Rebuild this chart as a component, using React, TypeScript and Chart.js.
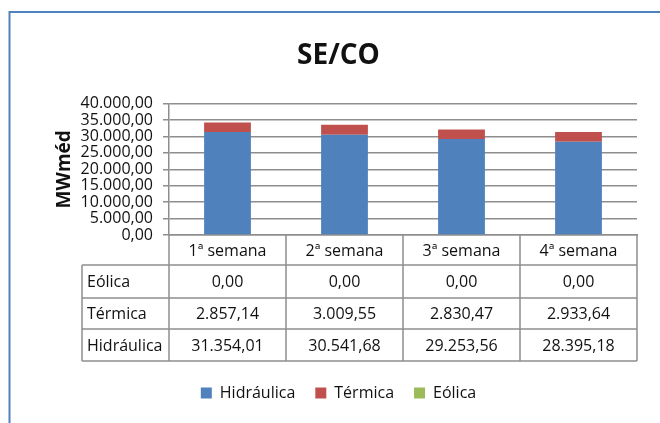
import { useEffect, useRef } from "react";
import { Chart, registerables } from "chart.js";

Chart.register(...registerables);

// ---- data ----
const chartTitle = "SE/CO";
const yAxisTitle = "MWméd";
const categories = ["1ª semana", "2ª semana", "3ª semana", "4ª semana"];
const seriesNames = ["Hidráulica", "Térmica", "Eólica"];
const hidraulica = [31354.01, 30541.68, 29253.56, 28395.18];
const termica = [2857.14, 3009.55, 2830.47, 2933.64];
const eolica = [0, 0, 0, 0];
const yMin = 0;
const yMax = 40000;
const yStep = 5000;

// ---- style ----
const COLORS = ["#4F81BD", "#C0504D", "#9BBB59"];
const GRID = "#8e8e8e";
const TEXT = "#111111";
const FAMILY = "'Open Sans', 'Noto Sans', sans-serif";

function fmtBR(v: number): string {
  const [i, f] = v.toFixed(2).split(".");
  return i.replace(/\B(?=(\d{3})+(?!\d))/g, ".") + "," + f;
}

const framePlugin = {
  id: "frame",
  beforeDraw(chart: any) {
    const { ctx, width, height } = chart;
    ctx.save();
    ctx.fillStyle = "#ffffff";
    ctx.fillRect(0, 0, width, height);
    ctx.strokeStyle = "#4F81BD";
    ctx.lineWidth = 2;
    ctx.beginPath();
    ctx.moveTo(9.5, height + 5);
    ctx.lineTo(9.5, 12);
    ctx.lineTo(width + 5, 12);
    ctx.stroke();
    ctx.restore();
  },
};

const tablePlugin = {
  id: "dataTable",
  afterDraw(chart: any) {
    const { ctx, chartArea } = chart;
    const xs = chart.scales.x;
    const left = chartArea.left;
    const right = chartArea.right;
    const top = chartArea.bottom;
    const n = categories.length;
    const colW = (right - left) / n;
    const rowYs = [top, top + 30, top + 63, top + 94, top + 126];
    const labelLeft = left - 87;

    ctx.save();
    ctx.strokeStyle = GRID;
    ctx.lineWidth = 1.5;
    const line = (x1: number, y1: number, x2: number, y2: number) => {
      ctx.beginPath();
      ctx.moveTo(x1, y1);
      ctx.lineTo(x2, y2);
      ctx.stroke();
    };
    for (let r = 1; r < rowYs.length; r++) line(labelLeft, rowYs[r], right, rowYs[r]);
    for (let c = 0; c <= n; c++) line(left + c * colW, top, left + c * colW, rowYs[4]);
    line(labelLeft, rowYs[1], labelLeft, rowYs[4]);

    ctx.fillStyle = TEXT;
    ctx.font = `16px ${FAMILY}`;
    ctx.textBaseline = "middle";
    ctx.textAlign = "center";
    categories.forEach((c, i) => {
      ctx.fillText(c, xs.getPixelForValue(i), (rowYs[0] + rowYs[1]) / 2 + 1);
    });
    const rows = [
      { name: seriesNames[2], data: eolica },
      { name: seriesNames[1], data: termica },
      { name: seriesNames[0], data: hidraulica },
    ];
    rows.forEach((row, r) => {
      const cy = (rowYs[r + 1] + rowYs[r + 2]) / 2 + 1;
      ctx.textAlign = "left";
      ctx.fillText(row.name, labelLeft + 5, cy);
      ctx.textAlign = "center";
      row.data.forEach((v, i) => ctx.fillText(fmtBR(v), xs.getPixelForValue(i), cy));
    });
    ctx.restore();
  },
};

export default function App() {
  const ref = useRef<HTMLCanvasElement | null>(null);

  useEffect(() => {
    document.body.style.margin = "0";
    const canvas = ref.current;
    if (!canvas) return;
    const chart = new Chart(canvas, {
      type: "bar",
      data: {
        labels: categories,
        datasets: [
          { label: seriesNames[0], data: hidraulica, backgroundColor: COLORS[0] },
          { label: seriesNames[1], data: termica, backgroundColor: COLORS[1] },
          { label: seriesNames[2], data: eolica, backgroundColor: COLORS[2] },
        ],
      },
      options: {
        responsive: false,
        animation: false,
        devicePixelRatio: 1,
        layout: { padding: { left: 40, right: 23, top: 13, bottom: 12 } },
        datasets: { bar: { categoryPercentage: 1, barPercentage: 0.4 } },
        scales: {
          x: {
            stacked: true,
            grid: { display: false },
            border: { display: true, color: GRID, width: 1.5 },
            ticks: { display: false },
            afterFit: (s: any) => {
              s.height = 130;
            },
          },
          y: {
            stacked: true,
            min: yMin,
            max: yMax,
            grid: { color: GRID, lineWidth: 1.5, tickLength: 6, drawTicks: true },
            border: { display: true, color: GRID, width: 1.5 },
            ticks: {
              stepSize: yStep,
              autoSkip: false,
              padding: 10,
              color: TEXT,
              font: { family: FAMILY, size: 16 },
              callback: (v: any) => fmtBR(Number(v)),
            },
            title: {
              display: true,
              text: yAxisTitle,
              color: TEXT,
              font: { family: FAMILY, size: 19, weight: "bold" },
              padding: { top: 13.6, bottom: 0 },
            },
            afterFit: (s: any) => {
              s.width = 129;
            },
          },
        },
        plugins: {
          title: {
            display: true,
            text: chartTitle,
            color: TEXT,
            font: { family: FAMILY, size: 28, weight: "bold" },
            padding: { top: 26, bottom: 31 },
          },
          legend: {
            position: "bottom",
            labels: {
              boxWidth: 11,
              boxHeight: 11,
              padding: 20,
              color: TEXT,
              font: { family: FAMILY, size: 16 },
            },
          },
          tooltip: { enabled: false },
        },
      },
      plugins: [framePlugin, tablePlugin],
    } as any);
    return () => chart.destroy();
  }, []);

  return (
    <div style={{ width: 660, height: 423 }}>
      <canvas ref={ref} width={660} height={423} />
    </div>
  );
}
